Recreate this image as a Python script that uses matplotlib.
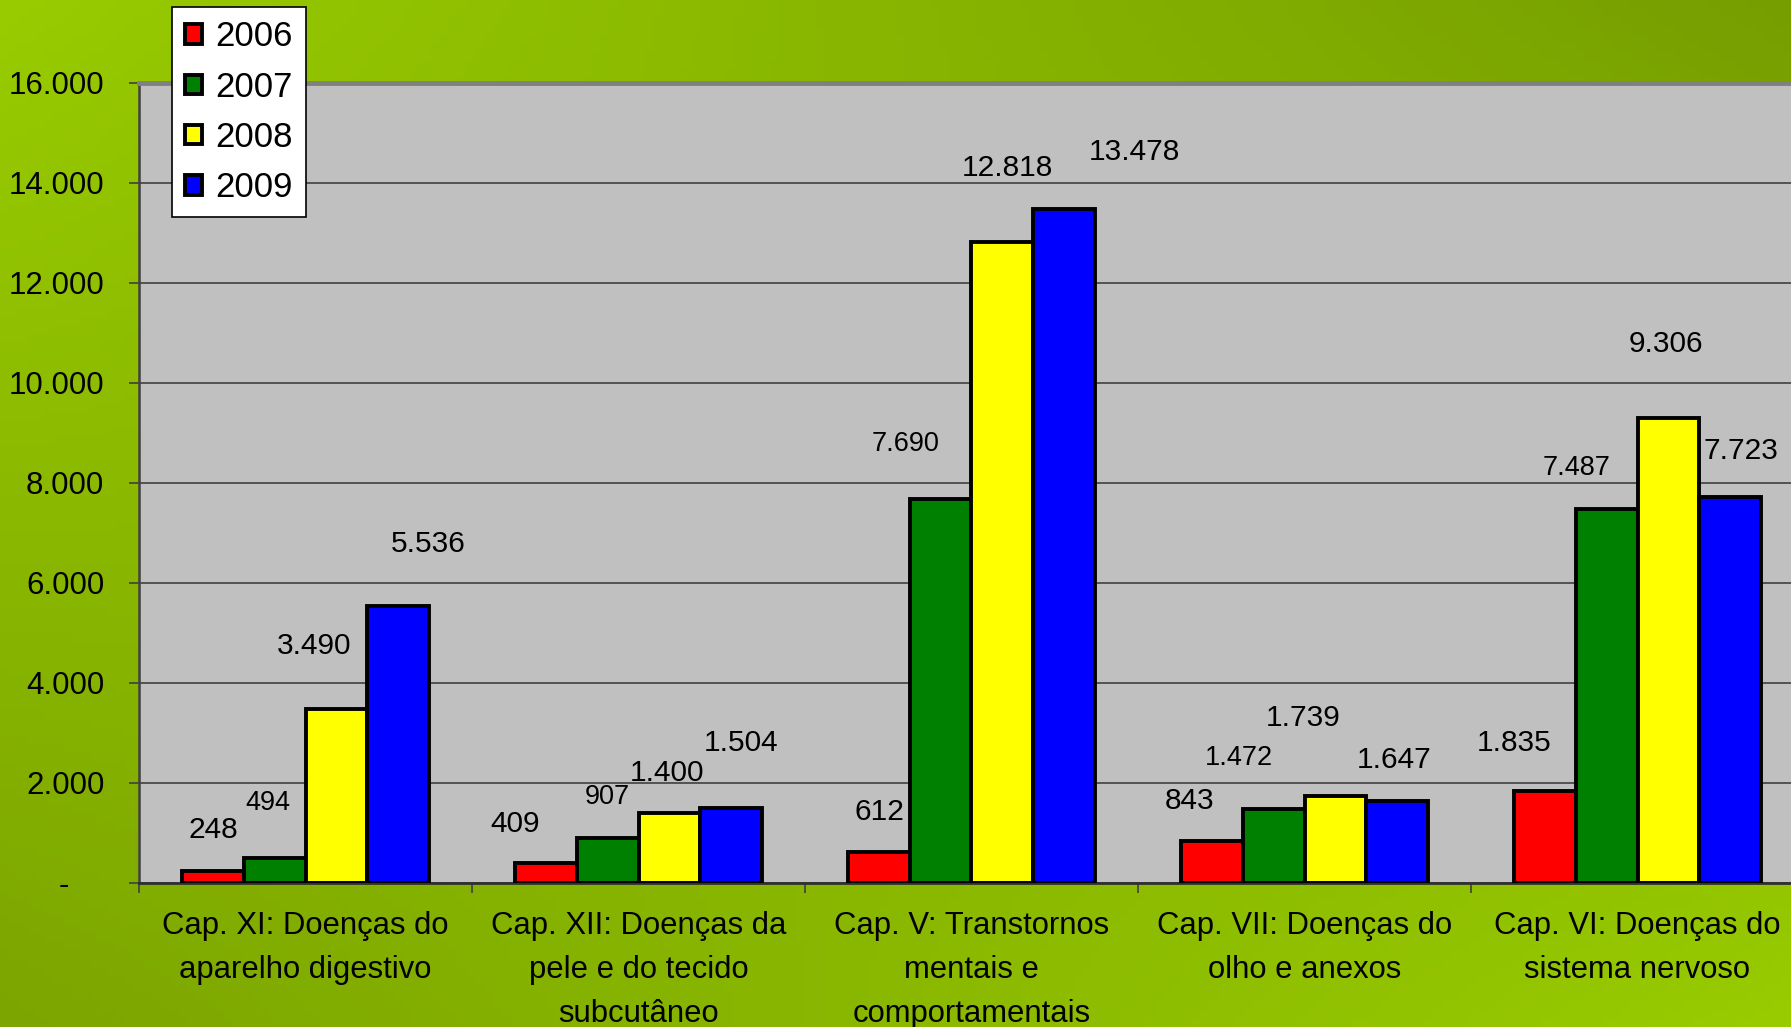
import numpy as np
import matplotlib
matplotlib.use("Agg")
import matplotlib.pyplot as plt
from matplotlib.ticker import FuncFormatter, MultipleLocator

plt.rcParams["font.family"] = ["Liberation Sans", "DejaVu Sans"]

categories = [
    "Cap. XI: Doenças do\naparelho digestivo",
    "Cap. XII: Doenças da\npele e do tecido\nsubcutâneo",
    "Cap. V: Transtornos\nmentais e\ncomportamentais",
    "Cap. VII: Doenças do\nolho e anexos",
    "Cap. VI: Doenças do\nsistema nervoso",
]
years = ["2006", "2007", "2008", "2009"]
v2006 = [248, 409, 612, 843, 1835]
v2007 = [494, 907, 7690, 1472, 7487]
v2008 = [3490, 1400, 12818, 1739, 9306]
v2009 = [5536, 1504, 13478, 1647, 7723]
series = [v2006, v2007, v2008, v2009]
colors = ["#FF0000", "#008000", "#FFFF00", "#0000FF"]

# label offsets (points) from each bar top, per year then per category
label_off = [
    [(0, 29), (-22, 28), (0, 29), (-16, 29), (-22, 35)],
    [(-5, 40), (0, 29), (-25, 39), (-25, 37), (-22, 29)],
    [(-16, 45), (-2, 29), (4, 53), (-23, 56), (-2, 53)],
    [(22, 45), (7, 47), (51, 41), (-2, 29), (8, 33)],
]
label_size = [21.5, 19.5, 21.5, 21.5]

W, H = 1791, 1027
fig = plt.figure(figsize=(W / 100, H / 100), dpi=100)

# green gradient background
bg = fig.add_axes([0, 0, 1, 1], zorder=-10)
gx, gy = np.meshgrid(np.linspace(0, 1, 200), np.linspace(0, 1, 120))
tl, tr = np.array([153, 204, 0]), np.array([118, 158, 0])
bl, br = np.array([124, 165, 0]), np.array([153, 204, 0])
img = ((1 - gx)[..., None] * (1 - gy)[..., None] * tl + gx[..., None] * (1 - gy)[..., None] * tr
       + (1 - gx)[..., None] * gy[..., None] * bl + gx[..., None] * gy[..., None] * br) / 255
bg.imshow(img, aspect="auto", extent=[0, 1, 0, 1], origin="upper")
bg.axis("off")

left, right, top, bottom = 139, 139 + 5 * 333, 83, 883
ax = fig.add_axes([left / W, 1 - bottom / H, (right - left) / W, (bottom - top) / H])
ax.set_facecolor("#C0C0C0")

x = np.arange(len(categories))
bw = 0.185
for j, (vals, col) in enumerate(zip(series, colors)):
    xs = x + (j - 1.5) * bw
    ax.bar(xs, vals, width=bw, color=col, edgecolor="black", linewidth=2.8,
           label=years[j], zorder=3)
    for i, v in enumerate(vals):
        dx, dy = label_off[j][i]
        ax.annotate(f"{v:,}".replace(",", "."), (xs[i], v), xytext=(dx, dy),
                    textcoords="offset points", ha="center", va="center",
                    fontsize=label_size[j], color="black", zorder=4)

ax.set_xlim(-0.5, len(categories) - 0.5)
ax.set_ylim(0, 16000)
ax.yaxis.set_major_locator(MultipleLocator(2000))
ax.yaxis.set_major_formatter(FuncFormatter(
    lambda v, p: "-    " if v == 0 else f"{v:,.0f}".replace(",", ".")))
ax.grid(axis="y", color="#404040", linewidth=1.2, zorder=1)
ax.set_axisbelow(True)

ax.set_xticks(x)
ax.set_xticklabels(categories, fontsize=22.3, linespacing=1.62)
ax.set_xticks(np.arange(len(categories) + 1) - 0.5, minor=True)
ax.tick_params(axis="x", which="major", length=0, pad=20)
ax.tick_params(axis="x", which="minor", length=7, width=1.2, color="#404040")
ax.tick_params(axis="y", length=7, width=1.2, color="#404040", labelsize=22.5, pad=18)

ax.spines["top"].set_color("#808080")
ax.spines["top"].set_linewidth(3.5)
ax.spines["left"].set_color("#404040")
ax.spines["left"].set_linewidth(1.8)
ax.spines["bottom"].set_color("#303030")
ax.spines["bottom"].set_linewidth(2)
ax.spines["right"].set_visible(False)

handles, labels = ax.get_legend_handles_labels()
leg = fig.legend(handles, labels, loc="upper left", bbox_to_anchor=(172 / W, 1 - 7 / H),
                 fontsize=25, frameon=True, fancybox=False, borderaxespad=0,
                 handlelength=0.48, handleheight=0.48, handletextpad=0.38,
                 labelspacing=0.5, borderpad=0.38)
leg.get_frame().set_edgecolor("black")
leg.get_frame().set_linewidth(1.2)
leg.get_frame().set_facecolor("white")
leg.get_frame().set_alpha(1)

fig.savefig("out.png", dpi=100)
